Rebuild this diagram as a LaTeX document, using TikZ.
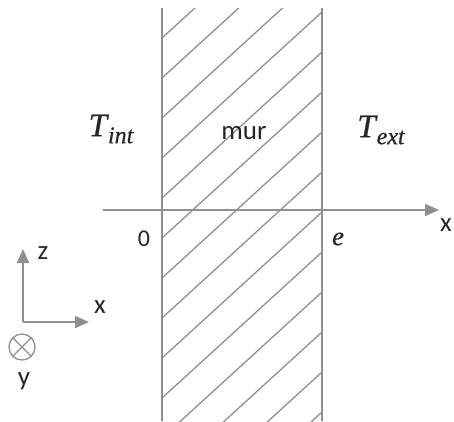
\documentclass[tikz,border=0pt]{standalone}
\usepackage{fontspec}
\setsansfont{Carlito}
\newfontfamily\mathitfont[FakeBold=0.6]{Liberation Serif}
\usetikzlibrary{arrows.meta}
\definecolor{lg}{HTML}{8F8F8F}
\newcommand{\tsym}[1]{{\mathitfont\itshape\fontsize{33}{36}\selectfont T\kern1pt\raisebox{-7pt}{\fontsize{24}{26}\selectfont #1}}}
\begin{document}
\begin{tikzpicture}[x=1pt,y=-1pt,
  wall/.style={draw=lg,line width=2pt},
  hatchline/.style={draw=lg,line width=1.3pt},
  axisarrow/.style={draw=lg,line width=2pt,-{Triangle[length=14pt,width=12pt,fill=lg]}},
  lbl/.style={font=\sffamily\fontsize{27}{30}\selectfont,text=black!85,inner sep=0pt},
  mlbl/.style={text=black!85,inner sep=0pt}]
\useasboundingbox (0,0) rectangle (454,421);
% hatching
\begin{scope}
\clip (162,8) rectangle (322,421);
\foreach \k in {0,...,13}{
  \pgfmathsetmacro{\yy}{38+40*\k}
  \draw[hatchline] (162,\yy) -- (322,\yy-146);
}
\end{scope}
% walls
\coordinate (wlt) at (162,8);
\coordinate (wlb) at (162,421);
\coordinate (wrt) at (322,8);
\coordinate (wrb) at (322,421);
\draw[wall] (wlt) -- (wlb);
\draw[wall] (wrt) -- (wrb);
% x axis
\coordinate (ax0) at (103,210);
\coordinate (ax1) at (439,210);
\draw[axisarrow] (ax0) -- (ax1);
% labels
\node[mlbl] (tint) at (111,129) {\tsym{int}};
\node[mlbl] (text) at (381,130) {\tsym{ext}};
\node[lbl] (mur) at (244,133) {mur};
\node[lbl] (xl) at (446,225) {x};
\node[lbl,font=\sffamily\fontsize{24}{28}\selectfont] (zero) at (144,239) {0};
\node[mlbl] (e) at (338,239) {\mathitfont\itshape\fontsize{27}{30}\selectfont e};
% frame
\coordinate (o) at (23,322);
\coordinate (zt) at (23,249);
\coordinate (xt) at (89,322);
\draw[axisarrow] (o) -- (zt);
\draw[axisarrow] (o) -- (xt);
\node[lbl] (zl) at (43,253) {z};
\node[lbl] (xl2) at (100,307) {x};
\node[draw=lg,line width=1.3pt,circle,minimum size=26pt,inner sep=0pt] (yc) at (22,347) {};
\draw[lg,line width=1.3pt] (yc.north west) -- (yc.south east);
\draw[lg,line width=1.3pt] (yc.north east) -- (yc.south west);
\node[lbl] (yl) at (24,381) {y};
\end{tikzpicture}
\end{document}
